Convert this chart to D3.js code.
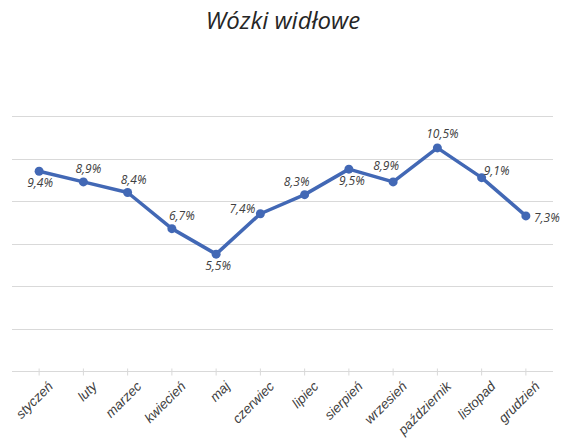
<!DOCTYPE html>
<html>
<head>
<meta charset="utf-8">
<script src="https://cdn.jsdelivr.net/npm/d3@7"></script>
<style>
  body { margin: 0; background: #fff; }
  svg { display: block; font-family: "Open Sans", sans-serif; }
</style>
</head>
<body>
<svg width="568" height="439"></svg>
<script>
// months and the share for each of them
const months = ["styczeń", "luty", "marzec", "kwiecień", "maj", "czerwiec",
                "lipiec", "sierpień", "wrzesień", "październik", "listopad", "grudzień"];
const shares = [9.4, 8.9, 8.4, 6.7, 5.5, 7.4, 8.3, 9.5, 8.9, 10.5, 9.1, 7.3];
const yTicks = [0, 2, 4, 6, 8, 10, 12];

// where each value label sits around its point (dx, dy)
const labelPos = [[1, 16], [5, -9], [6, -9], [10, -9], [2, 16], [-18, -1],
                  [-8, -9], [3, 16], [-7, -12], [5, -10], [15, -3], [21, 6]];

const svg = d3.select("svg");

const plotL = 12, plotR = 553, plotT = 116, plotB = 371;

// band scale so the points sit a bit inside the plot edges
const x = d3.scaleBand().domain(months).range([17, 548]);
const y = d3.scaleLinear().domain([0, 12]).range([plotB, plotT]);

svg.append("text")
  .attr("x", 283).attr("y", 29)
  .attr("text-anchor", "middle")
  .attr("font-size", 24)
  .attr("font-style", "italic")
  .attr("fill", "#262626")
  .text("Wózki widłowe");

// horizontal gridlines
svg.append("g")
  .selectAll("line")
  .data(yTicks.slice(1))
  .join("line")
  .attr("x1", plotL).attr("x2", plotR)
  .attr("y1", d => Math.round(y(d)) + 0.5)
  .attr("y2", d => Math.round(y(d)) + 0.5)
  .attr("stroke", "#d9d9d9");

// x axis
const xAxis = svg.append("g")
  .attr("transform", `translate(0,${plotB + 0.5})`)
  .call(d3.axisBottom(x).tickSize(4).tickSizeOuter(0).tickPadding(4));
xAxis.select(".domain").attr("stroke", "#d9d9d9").attr("d", `M${plotL},0H${plotR}`);
xAxis.selectAll(".tick line").attr("stroke", "#d9d9d9").attr("y1", -3);
xAxis.selectAll(".tick text")
  .attr("font-size", 13.5)
  .attr("font-style", "italic")
  .attr("fill", "#404040")
  .attr("text-anchor", "end")
  .attr("dy", null)
  .attr("transform", "translate(9,10) rotate(-45)");

const cx = (d, i) => x(months[i]) + x.bandwidth() / 2;

const line = d3.line()
  .x((d, i) => cx(d, i))
  .y(d => y(d));

svg.append("path")
  .datum(shares)
  .attr("fill", "none")
  .attr("stroke", "#4268b5")
  .attr("stroke-width", 3.5)
  .attr("stroke-linejoin", "round")
  .attr("d", line);

svg.append("g")
  .selectAll("circle")
  .data(shares)
  .join("circle")
  .attr("cx", cx)
  .attr("cy", d => y(d))
  .attr("r", 4.5)
  .attr("fill", "#4268b5");

svg.append("g")
  .selectAll("text")
  .data(shares)
  .join("text")
  .attr("x", (d, i) => cx(d, i) + labelPos[i][0])
  .attr("y", (d, i) => y(d) + labelPos[i][1])
  .attr("text-anchor", "middle")
  .attr("font-size", 12)
  .attr("font-style", "italic")
  .attr("fill", "#404040")
  .text(d => d.toFixed(1).replace(".", ",") + "%");
</script>
</body>
</html>
